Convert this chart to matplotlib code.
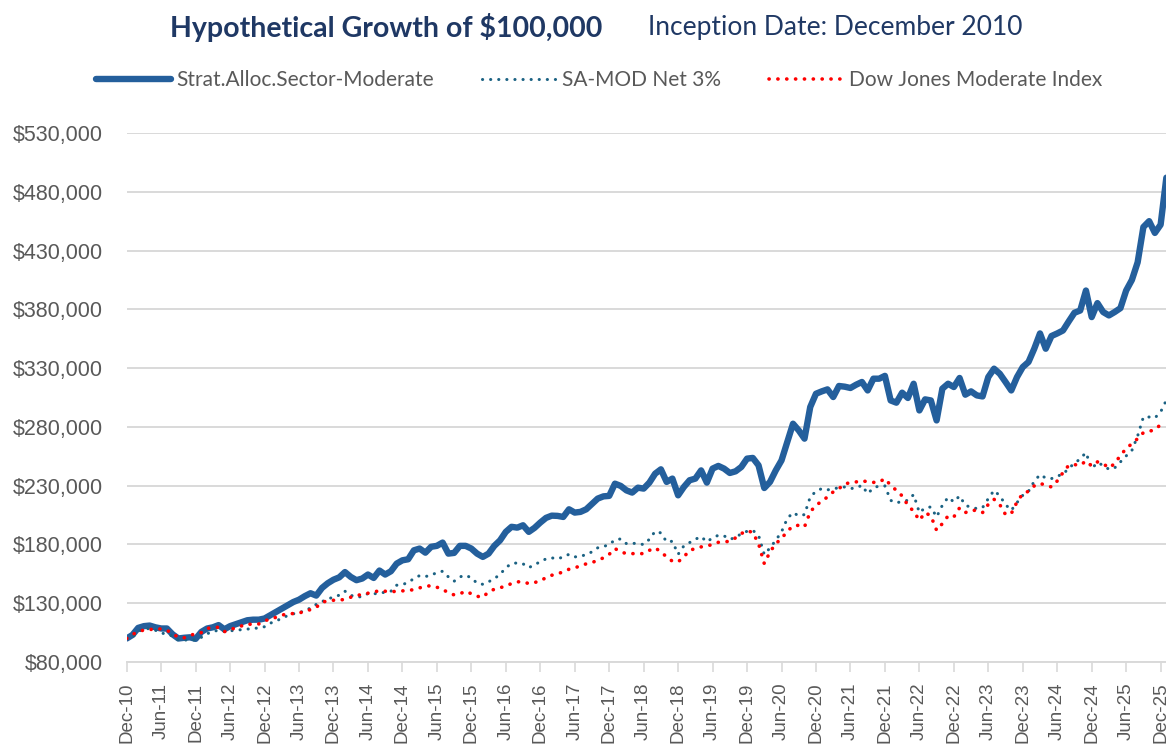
import matplotlib
matplotlib.use("Agg")
import matplotlib.pyplot as plt
import numpy as np
import pandas as pd

# month-end values in $ thousands, Dec 2010 through Jan 2026
strat_alloc = [
    100.0, 103.0, 109.0, 110.5, 111.0, 109.5, 108.5, 108.5, 103.5, 100.0,
    100.6, 101.0, 99.7, 105.6, 108.5, 109.5, 111.4, 107.8, 110.5, 112.2,
    114.0, 115.5, 116.0, 116.0, 117.0, 119.8, 122.6, 125.5, 128.3, 131.0,
    133.0, 136.0, 138.5, 136.5, 143.0, 147.0, 150.0, 152.0, 156.5, 152.4,
    149.6, 151.0, 154.4, 151.5, 157.8, 154.4, 157.2, 163.7, 166.5, 167.4,
    175.0, 176.5, 173.0, 178.0, 178.8, 181.6, 172.2, 172.8, 178.8, 178.8,
    176.5, 172.2, 169.4, 172.2, 178.8, 183.5, 190.7, 195.0, 194.3, 196.3,
    190.7, 194.1, 198.6, 202.6, 204.5, 204.3, 203.4, 209.9, 207.1, 207.7,
    209.9, 214.5, 219.0, 220.9, 221.3, 231.7, 229.8, 226.0, 224.1, 228.3,
    227.5, 232.6, 240.2, 243.9, 233.2, 236.0, 221.8, 228.9, 234.6, 236.0,
    243.0, 232.6, 244.5, 246.8, 244.5, 240.8, 242.2, 245.9, 253.0, 253.6,
    247.3, 228.0, 233.2, 243.0, 251.5, 267.2, 282.7, 277.0, 270.0, 296.9,
    308.2, 310.2, 311.9, 305.4, 314.8, 314.2, 313.1, 315.9, 318.2, 311.0,
    321.0, 321.0, 323.4, 302.5, 300.6, 309.1, 304.6, 316.7, 294.0, 303.4,
    302.5, 285.5, 312.5, 316.7, 313.9, 321.6, 307.4, 310.2, 306.8, 305.9,
    322.4, 329.5, 325.2, 318.2, 311.0, 322.4, 330.9, 335.2, 346.5, 359.5,
    346.5, 357.3, 359.5, 362.0, 369.7, 377.1, 379.0, 396.0, 373.4, 385.3,
    377.7, 374.8, 377.7, 381.0, 396.0, 405.0, 420.0, 450.0, 455.0, 445.0,
    452.0, 492.0,
]

sa_mod_net = [
    100.0, 101.0, 106.0, 108.0, 108.5, 107.0, 104.5, 104.0, 102.0, 98.7,
    98.7, 98.7, 98.7, 101.0, 104.0, 106.0, 107.0, 106.0, 106.5, 107.0,
    107.5, 108.0, 108.5, 109.0, 110.0, 113.0, 115.0, 117.0, 119.5, 121.0,
    122.0, 123.5, 126.0, 129.0, 131.4, 133.4, 135.4, 136.8, 140.2, 136.8,
    135.1, 135.7, 138.2, 138.0, 138.5, 139.4, 140.2, 145.3, 145.9, 147.6,
    151.0, 153.5, 152.7, 153.8, 156.1, 157.2, 152.4, 148.7, 152.4, 153.8,
    151.6, 147.0, 146.1, 148.2, 151.0, 154.4, 160.3, 163.7, 164.3, 163.5,
    160.3, 162.6, 165.4, 167.7, 168.6, 167.7, 169.4, 171.6, 169.4, 169.9,
    171.4, 173.7, 177.1, 178.2, 179.9, 183.9, 184.7, 180.7, 181.0, 180.7,
    179.9, 184.4, 191.2, 189.8, 182.2, 182.7, 171.6, 178.8, 181.6, 184.4,
    186.7, 182.2, 185.6, 187.8, 187.3, 184.4, 185.8, 189.2, 191.2, 192.0,
    187.8, 171.4, 177.1, 183.5, 190.7, 202.0, 207.1, 204.3, 205.4, 220.4,
    225.2, 227.5, 226.4, 227.5, 228.1, 228.9, 227.5, 228.1, 230.3, 223.2,
    228.1, 229.8, 229.8, 217.5, 215.3, 216.7, 217.5, 222.4, 207.1, 211.1,
    211.9, 203.4, 213.3, 220.1, 216.2, 221.3, 213.3, 211.6, 210.5, 211.3,
    219.0, 226.0, 221.3, 213.9, 209.0, 215.6, 221.8, 225.2, 233.7, 239.4,
    236.5, 236.0, 238.3, 239.4, 245.1, 248.7, 253.0, 258.1, 244.5, 249.6,
    247.3, 243.9, 245.1, 250.2, 255.3, 260.0, 272.3, 288.4, 288.4, 287.6,
    292.7, 302.7,
]

dj_moderate = [
    100.0, 103.5, 105.6, 107.3, 107.5, 108.4, 108.0, 107.0, 104.0, 101.0,
    100.6, 102.6, 104.0, 105.0, 108.5, 109.5, 109.5, 105.8, 107.3, 109.3,
    110.7, 112.4, 111.8, 112.4, 115.0, 116.6, 118.0, 119.8, 121.0, 121.2,
    121.5, 123.4, 124.5, 126.5, 130.8, 132.0, 132.5, 132.5, 133.4, 135.1,
    136.3, 137.7, 138.5, 139.4, 140.8, 140.2, 139.7, 140.2, 140.5, 140.8,
    141.6, 143.1, 144.2, 145.0, 143.6, 141.9, 138.8, 137.1, 138.0, 140.2,
    138.0, 135.9, 135.1, 139.7, 141.9, 143.1, 144.8, 146.7, 148.2, 148.2,
    146.7, 147.6, 149.0, 151.8, 153.8, 155.0, 156.7, 158.9, 160.1, 161.8,
    163.5, 164.6, 166.5, 168.6, 171.6, 176.5, 173.7, 172.2, 172.2, 172.2,
    172.2, 175.0, 177.1, 173.7, 169.4, 165.7, 165.2, 169.4, 175.0, 176.5,
    177.9, 178.8, 179.9, 181.8, 182.2, 182.7, 185.6, 189.2, 191.8, 190.1,
    180.7, 163.7, 173.7, 180.7, 185.0, 191.2, 195.7, 196.3, 194.9, 207.7,
    213.3, 216.7, 220.4, 224.7, 227.5, 231.5, 232.6, 233.2, 234.3, 233.2,
    232.8, 233.0, 236.0, 230.3, 226.0, 221.3, 213.3, 208.2, 200.5, 207.1,
    204.3, 192.0, 197.7, 204.3, 203.4, 211.1, 207.1, 209.0, 209.0, 207.1,
    214.1, 218.4, 213.9, 205.4, 206.2, 216.2, 223.2, 225.2, 229.8, 232.0,
    230.3, 228.9, 234.0, 241.1, 247.3, 247.9, 247.3, 251.0, 246.8, 250.2,
    248.7, 245.1, 248.7, 255.8, 261.5, 265.7, 270.0, 275.1, 276.2, 277.6,
    281.9, 283.5,
]

series_names = ["Strat.Alloc.Sector-Moderate", "SA-MOD Net 3%", "Dow Jones Moderate Index"]

months = pd.date_range("2010-12-31", periods=len(strat_alloc), freq="ME")
x = np.arange(len(months))

navy = "#1F3864"
grey_txt = "#595959"
grid_col = "#D9D9D9"

fig = plt.figure(figsize=(11.66, 7.47), dpi=100)
W, H = 1166, 747
ax = fig.add_axes([126.7 / W, 1 - 662 / H, 181 * 5.744 / W, 529 / H])

ax.plot(x, np.array(strat_alloc) * 1000, color="#245F9C", lw=4.6,
        solid_capstyle="round", solid_joinstyle="round", zorder=3,
        label=series_names[0])
ax.plot(x, np.array(sa_mod_net) * 1000, color="#1B6283", lw=2.2,
        linestyle=(0, (0.05, 2.6)), dash_capstyle="round", zorder=4,
        label=series_names[1])
ax.plot(x, np.array(dj_moderate) * 1000, color="#FF0000", lw=2.6,
        linestyle=(0, (0.05, 2.4)), dash_capstyle="round", zorder=5,
        label=series_names[2])

ax.set_xlim(0, len(x) - 1)
ax.set_ylim(80000, 530000)
ax.set_yticks(np.arange(80000, 530001, 50000))
ax.yaxis.set_major_formatter(matplotlib.ticker.FuncFormatter(lambda v, p: f"${v:,.0f}"))

tick_pos = x[::6]
ax.set_xticks(tick_pos)
ax.set_xticklabels([months[i].strftime("%b-%y") for i in tick_pos],
                   rotation=90, family="Liberation Sans", fontsize=13.5, color=grey_txt)
for lab in ax.get_yticklabels():
    lab.set_family("Liberation Sans")
    lab.set_fontsize(15.5)
    lab.set_color(grey_txt)

ax.yaxis.grid(True, color=grid_col, lw=1.4)
ax.set_axisbelow(True)
for side in ["top", "right", "left"]:
    ax.spines[side].set_visible(False)
ax.spines["bottom"].set_color(grid_col)
ax.spines["bottom"].set_linewidth(1.4)
ax.tick_params(axis="x", direction="out", length=7, width=1.2, color=grid_col, pad=8)
ax.tick_params(axis="y", length=0, pad=17)

# title: bold heading plus the inception note
fig.text(386 / W, 1 - 27 / H, "Hypothetical Growth of $100,000", ha="center", va="center",
         fontsize=20.5, fontweight="bold", color=navy, family="Lato")
fig.text(835 / W, 1 - 27 / H, "Inception Date: December 2010", ha="center", va="center",
         fontsize=19, color=navy, family="Lato")

leg = ax.legend(loc="center", bbox_to_anchor=(599 / W, 1 - 80 / H),
                bbox_transform=fig.transFigure, ncol=3, frameon=False,
                prop={"family": "Lato", "size": 15}, handlelength=3.6,
                handletextpad=0.25, columnspacing=2.3)
for t in leg.get_texts():
    t.set_color(grey_txt)

fig.savefig("out.png", dpi=100)
